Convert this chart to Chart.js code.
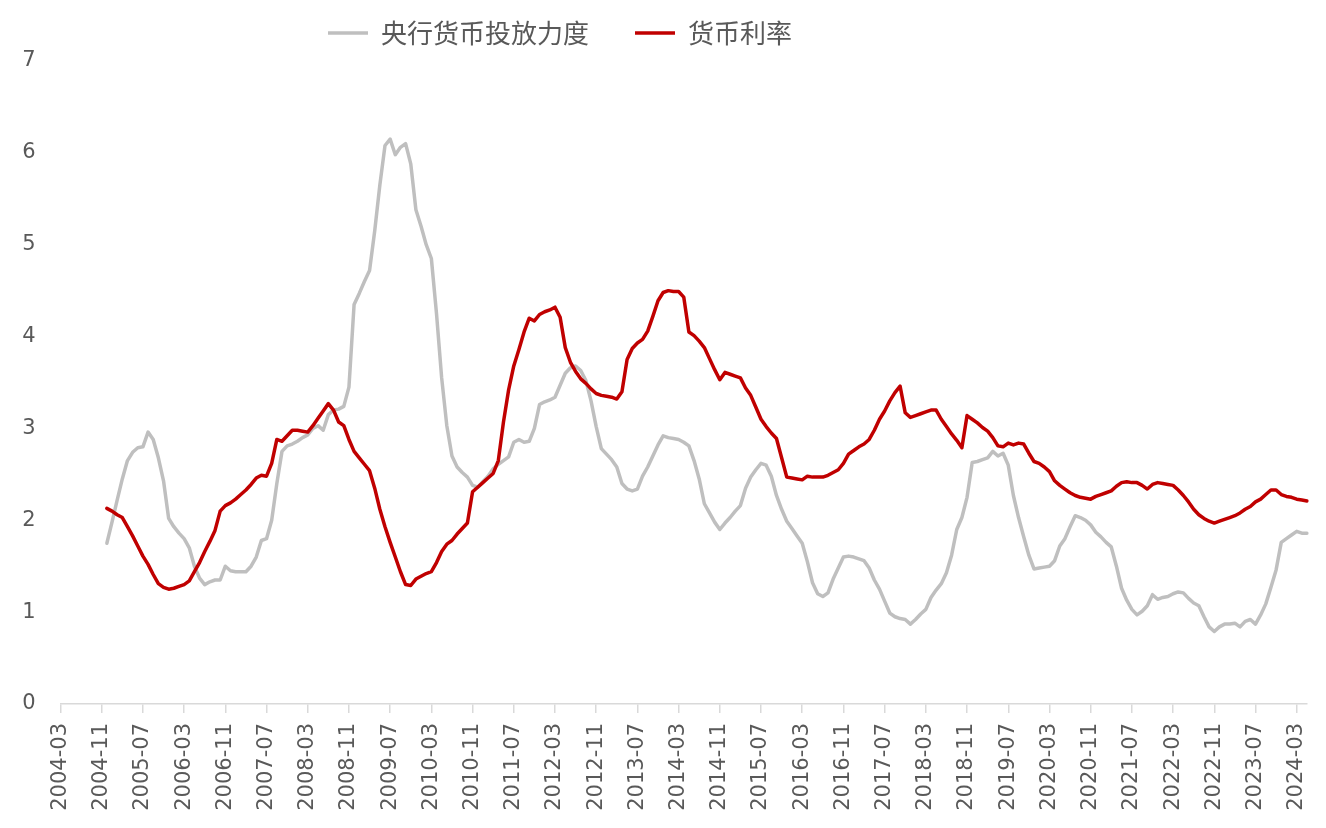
<!DOCTYPE html>
<html>
<head>
<meta charset="utf-8">
<script src="https://cdn.jsdelivr.net/npm/chart.js@4.4.1/dist/chart.umd.min.js"></script>
<style>
  html, body { margin: 0; padding: 0; background: #ffffff; }
  #wrap { width: 1326px; height: 828px; position: relative; }
</style>
</head>
<body>
<div id="wrap"><canvas id="c"></canvas></div>
<script>
// ---- Data (monthly, 2004-12 .. 2024-05) ----
const seriesNames = ['央行货币投放力度', '货币利率'];
const firstLabelMonth = { year: 2004, month: 3 };   // axis starts 2004-03
const lastLabelMonth = { year: 2024, month: 5 };    // axis ends 2024-05
const leadingEmptyMonths = 9;                        // data starts 2004-12

const supplyIndex = [
  1.75,
  1.98, 2.22, 2.45, 2.65, 2.74, 2.79, 2.80, 2.96, 2.88, 2.68, 2.43, 2.02,
  1.93, 1.86, 1.80, 1.70, 1.50, 1.37, 1.30, 1.33, 1.35, 1.35, 1.50, 1.45,
  1.44, 1.44, 1.44, 1.50, 1.60, 1.78, 1.80, 2.00, 2.40, 2.75, 2.81, 2.83,
  2.86, 2.90, 2.93, 3.00, 3.03, 2.98, 3.15, 3.20, 3.21, 3.24, 3.45, 4.35,
  4.47, 4.60, 4.72, 5.15, 5.65, 6.08, 6.15, 5.98, 6.06, 6.10, 5.88, 5.38,
  5.20, 5.00, 4.85, 4.25, 3.55, 3.03, 2.70, 2.58, 2.52, 2.47, 2.38, 2.36,
  2.42, 2.48, 2.56, 2.61, 2.65, 2.69, 2.85, 2.88, 2.85, 2.86, 3.00, 3.26,
  3.29, 3.31, 3.34, 3.47, 3.60, 3.66, 3.68, 3.63, 3.52, 3.30, 3.02, 2.78,
  2.72, 2.66, 2.58, 2.40, 2.34, 2.32, 2.34, 2.48, 2.58, 2.70, 2.82, 2.92,
  2.90, 2.89, 2.88, 2.85, 2.81, 2.65, 2.45, 2.18, 2.08, 1.98, 1.90, 1.97,
  2.03, 2.10, 2.16, 2.35, 2.47, 2.55, 2.62, 2.60, 2.48, 2.27, 2.12, 1.99,
  1.91, 1.83, 1.75, 1.55, 1.32, 1.20, 1.17, 1.21, 1.36, 1.48, 1.60, 1.61,
  1.60, 1.58, 1.56, 1.48, 1.35, 1.25, 1.12, 0.99, 0.95, 0.93, 0.92, 0.87,
  0.92, 0.98, 1.03, 1.16, 1.24, 1.31, 1.43, 1.62, 1.90, 2.03, 2.25, 2.63,
  2.64, 2.66, 2.68, 2.75, 2.70, 2.73, 2.60, 2.27, 2.03, 1.82, 1.62, 1.47,
  1.48, 1.49, 1.50, 1.56, 1.72, 1.80, 1.93, 2.05, 2.03, 2.00, 1.95, 1.87,
  1.82, 1.76, 1.71, 1.50, 1.26, 1.13, 1.03, 0.97, 1.01, 1.07, 1.19, 1.14,
  1.16, 1.17, 1.20, 1.22, 1.21, 1.15, 1.10, 1.07, 0.95, 0.84, 0.79, 0.84,
  0.87, 0.87, 0.88, 0.84, 0.90, 0.92, 0.87, 0.97, 1.09, 1.27, 1.46, 1.76,
  1.80, 1.84, 1.88, 1.86, 1.86
];

const moneyRate = [
  2.13,
  2.10, 2.06, 2.03, 1.93, 1.83, 1.72, 1.61, 1.52, 1.41, 1.31, 1.27, 1.25,
  1.26, 1.28, 1.30, 1.34, 1.44, 1.54, 1.66, 1.77, 1.89, 2.10, 2.16, 2.19,
  2.23, 2.28, 2.33, 2.39, 2.46, 2.49, 2.48, 2.62, 2.88, 2.86, 2.92, 2.98,
  2.98, 2.97, 2.96, 3.03, 3.11, 3.19, 3.27, 3.20, 3.07, 3.03, 2.88, 2.75,
  2.68, 2.61, 2.54, 2.35, 2.12, 1.93, 1.76, 1.60, 1.44, 1.30, 1.29, 1.36,
  1.39, 1.42, 1.44, 1.54, 1.66, 1.74, 1.78, 1.85, 1.91, 1.97, 2.31, 2.36,
  2.41, 2.46, 2.51, 2.65, 3.07, 3.42, 3.68, 3.86, 4.05, 4.20, 4.17, 4.24,
  4.27, 4.29, 4.32, 4.21, 3.88, 3.72, 3.62, 3.54, 3.49, 3.43, 3.38, 3.36,
  3.35, 3.34, 3.32, 3.40, 3.75, 3.87, 3.93, 3.97, 4.06, 4.22, 4.39, 4.48,
  4.50, 4.49, 4.49, 4.43, 4.05, 4.01, 3.95, 3.88, 3.76, 3.64, 3.53, 3.61,
  3.59, 3.57, 3.55, 3.44, 3.36, 3.23, 3.10, 3.02, 2.95, 2.89, 2.68, 2.47,
  2.46, 2.45, 2.44, 2.48, 2.47, 2.47, 2.47, 2.49, 2.52, 2.55, 2.62, 2.72,
  2.76, 2.80, 2.83, 2.88, 2.98, 3.10, 3.19, 3.30, 3.39, 3.46, 3.17, 3.12,
  3.14, 3.16, 3.18, 3.20, 3.20, 3.10, 3.02, 2.94, 2.87, 2.79, 3.14, 3.10,
  3.06, 3.01, 2.97, 2.90, 2.81, 2.80, 2.84, 2.82, 2.84, 2.83, 2.73, 2.64,
  2.62, 2.58, 2.53, 2.43, 2.38, 2.34, 2.30, 2.27, 2.25, 2.24, 2.23, 2.26,
  2.28, 2.30, 2.32, 2.37, 2.41, 2.42, 2.41, 2.41, 2.38, 2.34, 2.39, 2.41,
  2.40, 2.39, 2.38, 2.33, 2.27, 2.20, 2.12, 2.06, 2.02, 1.99, 1.97, 1.99,
  2.01, 2.03, 2.05, 2.08, 2.12, 2.15, 2.20, 2.23, 2.28, 2.33, 2.33, 2.28,
  2.26, 2.25, 2.23, 2.22, 2.21
];

const yTickValues = [0, 1, 2, 3, 4, 5, 6, 7];
const xTickEvery = 8; // a tick label every 8 months

// monthly category labels "YYYY-MM"
const monthLabels = [];
{
  let y = firstLabelMonth.year, m = firstLabelMonth.month;
  while (y < lastLabelMonth.year || (y === lastLabelMonth.year && m <= lastLabelMonth.month)) {
    monthLabels.push(y + '-' + String(m).padStart(2, '0'));
    m++; if (m > 12) { m = 1; y++; }
  }
}
const lead = new Array(leadingEmptyMonths).fill(null);

const TEXT = '#595959';
const tickFont = { family: 'DejaVu Sans', size: 21 };

const legendShift = {
  id: 'legendShift',
  afterLayout(chart) {
    const l = chart.legend;
    if (!l || !l.lineWidths) return;
    const pad = l.options.labels.padding;
    const startX = (l.left + pad + l.right - l.lineWidths[0]) / 2;
    const dx = 328 - startX;
    l.left += dx; l.right += dx;
    l.top -= 5; l.bottom -= 5;
  }
};

new Chart(document.getElementById('c'), {
  type: 'line',
  data: {
    labels: monthLabels,
    datasets: [
      {
        label: seriesNames[0],
        data: lead.concat(supplyIndex),
        borderColor: '#bfbfbf',
        backgroundColor: '#bfbfbf',
        borderWidth: 3.5,
        pointRadius: 0,
        tension: 0,
        borderCapStyle: 'round',
        borderJoinStyle: 'round',
        order: 1
      },
      {
        label: seriesNames[1],
        data: lead.concat(moneyRate),
        borderColor: '#c00000',
        backgroundColor: '#c00000',
        borderWidth: 3.5,
        pointRadius: 0,
        tension: 0,
        borderCapStyle: 'round',
        borderJoinStyle: 'round',
        order: 0
      }
    ]
  },
  options: {
    responsive: true,
    maintainAspectRatio: false,
    animation: false,
    layout: { padding: { left: 2.5, right: 19, top: -21, bottom: 0 } },
    plugins: {
      tooltip: { enabled: false },
      legend: {
        display: true,
        position: 'top',
        align: 'center',
        labels: {
          usePointStyle: true,
          pointStyle: 'line',
          pointStyleWidth: 40,
          padding: 46,
          color: TEXT,
          font: { family: 'Noto Sans CJK SC', size: 26 },
          sort: (a, b) => a.datasetIndex - b.datasetIndex
        }
      }
    },
    scales: {
      x: {
        type: 'category',
        offset: false,
        grid: {
          display: true,
          drawOnChartArea: false,
          drawTicks: true,
          tickLength: 9,
          color: '#d9d9d9',
          lineWidth: 1.5
        },
        border: { display: true, color: '#d9d9d9', width: 1.5 },
        ticks: {
          autoSkip: false,
          minRotation: 90,
          maxRotation: 90,
          padding: 10,
          color: TEXT,
          font: tickFont,
          callback: (v, i) => (i % xTickEvery === 0 ? monthLabels[i] : null)
        },
        afterFit: (s) => { s.height = 124; s.paddingRight = 0; s.paddingLeft = 0; }
      },
      y: {
        min: yTickValues[0],
        max: yTickValues[yTickValues.length - 1],
        grid: { display: false, drawTicks: false },
        border: { display: false },
        ticks: {
          stepSize: 1,
          padding: 25,
          color: TEXT,
          font: tickFont
        },
        afterFit: (s) => { s.width = 58; }
      }
    }
  },
  plugins: [legendShift]
});
</script>
</body>
</html>
